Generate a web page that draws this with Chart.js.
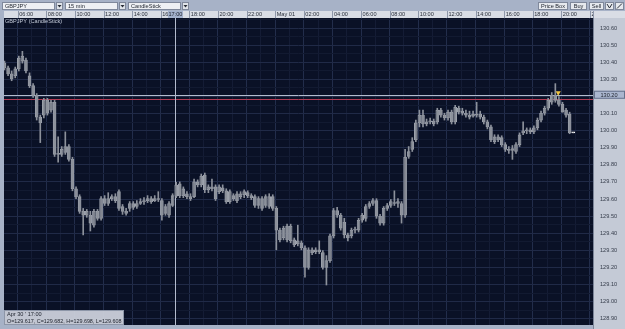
<!DOCTYPE html>
<html>
<head>
<meta charset="utf-8">
<script src="https://cdn.jsdelivr.net/npm/chart.js@4.4.1/dist/chart.umd.min.js"></script>
<style>
html, body { margin: 0; padding: 0; background: #a7b2c7; }
canvas { display: block; }
</style>
</head>
<body>
<canvas id="mainChart" width="625" height="329"></canvas>
<script>
// GBPJPY, 15 min candles, Apr 30 05:00 -> May 01 20:45
const candleOpen = [
  130.395,130.367,130.332,130.321,130.361,130.407,130.413,130.321,130.263,130.206,
  130.079,130.091,130.177,130.120,130.166,129.861,129.861,129.872,129.907,129.832,
  129.660,129.614,129.528,129.505,129.505,129.447,129.528,129.487,129.602,129.574,
  129.602,129.614,129.643,129.556,129.528,129.545,129.574,129.556,129.574,129.585,
  129.591,129.602,129.591,129.602,129.591,129.516,129.505,129.562,129.617,129.689,
  129.620,129.631,129.614,129.614,129.700,129.683,129.740,129.654,129.671,129.671,
  129.643,129.666,129.648,129.585,129.620,129.631,129.614,129.625,129.637,129.620,
  129.614,129.562,129.602,129.562,129.556,129.614,129.545,129.418,129.372,129.441,
  129.355,129.361,129.338,129.344,129.315,129.200,129.303,129.292,129.303,129.286,
  129.200,129.240,129.384,129.533,129.505,129.464,129.390,129.384,129.418,129.418,
  129.476,129.487,129.556,129.574,129.591,129.499,129.459,129.545,129.562,129.579,
  129.574,129.574,129.505,129.849,129.890,129.947,130.045,130.091,130.039,130.051,
  130.056,130.051,130.120,130.091,130.074,130.108,130.051,130.131,130.114,130.102,
  130.091,130.085,130.097,130.097,130.079,130.051,130.022,129.936,129.964,129.959,
  129.918,129.890,129.884,129.878,129.918,129.987,129.999,130.005,129.993,130.016,
  130.062,130.102,130.131,130.166,130.206,130.177,130.154,130.120,130.097,129.987
]
const candleHigh = [
  130.407,130.378,130.349,130.372,130.436,130.464,130.424,130.338,130.275,130.217,
  130.091,130.189,130.189,130.177,130.177,129.964,129.907,129.993,129.918,129.844,
  129.671,129.625,129.545,129.539,129.528,129.539,129.539,129.614,129.620,129.637,
  129.625,129.631,129.654,129.568,129.545,129.585,129.585,129.591,129.602,129.608,
  129.620,129.614,129.620,129.643,129.602,129.568,129.585,129.631,129.698,129.700,
  129.671,129.643,129.631,129.717,129.712,129.746,129.752,129.683,129.717,129.683,
  129.683,129.683,129.660,129.654,129.631,129.643,129.643,129.654,129.648,129.631,
  129.625,129.614,129.614,129.625,129.631,129.625,129.556,129.430,129.441,129.453,
  129.453,129.372,129.447,129.355,129.326,129.315,129.315,129.315,129.355,129.298,
  129.269,129.395,129.545,129.551,129.516,129.487,129.401,129.430,129.436,129.487,
  129.516,129.568,129.585,129.602,129.602,129.510,129.556,129.574,129.597,129.648,
  129.602,129.585,129.890,129.907,129.959,130.062,130.120,130.120,130.068,130.074,
  130.068,130.131,130.131,130.102,130.120,130.120,130.148,130.143,130.131,130.120,
  130.114,130.114,130.166,130.114,130.091,130.062,130.033,129.976,129.976,129.970,
  129.930,129.907,129.913,129.930,129.987,130.051,130.016,130.016,130.028,130.074,
  130.114,130.143,130.189,130.223,130.275,130.200,130.166,130.131,130.108,129.987
]
const candleLow = [
  130.355,130.321,130.292,130.309,130.349,130.395,130.338,130.252,130.194,130.062,
  129.930,130.074,130.091,130.108,129.849,129.815,129.849,129.861,129.821,129.648,
  129.602,129.516,129.390,129.493,129.413,129.436,129.476,129.476,129.562,129.562,
  129.591,129.579,129.533,129.510,129.505,129.528,129.539,129.545,129.568,129.568,
  129.579,129.574,129.585,129.585,129.476,129.505,129.493,129.556,129.608,129.608,
  129.608,129.602,129.591,129.608,129.671,129.671,129.637,129.637,129.648,129.591,
  129.631,129.637,129.574,129.574,129.591,129.579,129.602,129.608,129.608,129.597,
  129.551,129.545,129.533,129.551,129.545,129.533,129.303,129.349,129.361,129.349,
  129.344,129.321,129.326,129.303,129.143,129.189,129.275,129.280,129.280,129.189,
  129.097,129.229,129.372,129.493,129.418,129.372,129.355,129.372,129.401,129.407,
  129.464,129.470,129.545,129.562,129.487,129.447,129.447,129.533,129.551,129.562,
  129.551,129.459,129.493,129.838,129.878,129.936,130.022,130.022,130.028,130.039,
  130.028,130.039,130.079,130.062,130.062,130.039,130.039,130.097,130.091,130.079,
  130.068,130.079,130.079,130.068,130.039,130.010,129.936,129.924,129.936,129.907,
  129.878,129.867,129.832,129.867,129.907,129.976,129.982,129.982,129.982,130.005,
  130.051,130.091,130.120,130.154,130.166,130.143,130.108,130.079,129.982,129.987
]
const candleClose = [
  130.367,130.332,130.303,130.361,130.424,130.436,130.349,130.263,130.206,130.079,
  130.045,130.177,130.102,130.166,129.861,129.867,129.890,129.907,129.832,129.660,
  129.614,129.528,129.505,129.528,129.459,129.528,129.487,129.602,129.574,129.602,
  129.614,129.591,129.545,129.528,129.516,129.574,129.551,129.574,129.585,129.591,
  129.602,129.585,129.602,129.597,129.505,129.556,129.574,129.620,129.682,129.620,
  129.660,129.614,129.602,129.700,129.683,129.734,129.654,129.671,129.660,129.602,
  129.671,129.648,129.585,129.643,129.602,129.591,129.631,129.643,129.620,129.608,
  129.562,129.602,129.545,129.614,129.614,129.545,129.418,129.361,129.430,129.361,
  129.441,129.332,129.355,129.315,129.200,129.303,129.286,129.303,129.292,129.200,
  129.240,129.384,129.533,129.505,129.430,129.390,129.372,129.418,129.424,129.476,
  129.505,129.556,129.574,129.591,129.499,129.459,129.545,129.562,129.585,129.574,
  129.585,129.505,129.844,129.878,129.936,130.045,130.091,130.039,130.051,130.056,
  130.039,130.120,130.091,130.074,130.108,130.051,130.137,130.108,130.102,130.091,
  130.079,130.097,130.091,130.079,130.051,130.022,129.947,129.964,129.947,129.918,
  129.890,129.884,129.895,129.918,129.976,129.999,130.005,129.993,130.016,130.062,
  130.102,130.131,130.177,130.206,130.177,130.154,130.108,130.091,129.987,129.987
]

// 2-hour time labels along the top band (first one is Apr 30 06:00)
const xTickLabels = ["06:00", "08:00", "10:00", "12:00", "14:00", "16:00", "18:00", "20:00", "22:00", "May 01",
                     "02:00", "04:00", "06:00", "08:00", "10:00", "12:00", "14:00", "16:00", "18:00", "20:00", "22:00"]
const yTickLabels = ["128.90", "129.00", "129.10", "129.20", "129.30", "129.40", "129.50", "129.60", "129.70",
                     "129.80", "129.90", "130.00", "130.10", "130.20", "130.30", "130.40", "130.50", "130.60"]

const toolbarCombos = ["GBPJPY", "15 min", "CandleStick"]
const toolbarButtons = ["Price Box", "Buy", "Sell"]
const chartTitle = "GBPJPY (CandleStick)"

// crosshair sits on the Apr 30 17:00 candle
const crosshairIndex = 48
const crosshairTime = "17:00"
const crosshairDate = "Apr 30 ' 17:00"
const crosshairPrice = 130.21
const crosshairPriceLabel = "130.20"
const bidPrice = 130.185
const tradeMarker = [{ x: 154.8, y: 130.222 }]

const FONT = "'Liberation Sans', Arial, sans-serif"
const yTickValues = yTickLabels.map(Number)
const lastIndex = candleOpen.length - 1

function fillBox(ctx, x, y, w, h, fill, stroke) {
    ctx.fillStyle = fill
    ctx.fillRect(x, y, w, h)
    if (stroke) {
        ctx.strokeStyle = stroke
        ctx.lineWidth = 1
        ctx.strokeRect(x + 0.5, y + 0.5, w - 1, h - 1)
    }
}

function putText(ctx, text, x, y, color, align, size) {
    ctx.font = (size || 5.6) + "px " + FONT
    ctx.fillStyle = color
    ctx.textAlign = align || "left"
    ctx.textBaseline = "middle"
    ctx.fillText(text, x, y)
}

function hLine(ctx, x1, x2, y, color) {
    ctx.strokeStyle = color
    ctx.lineWidth = 1
    ctx.beginPath()
    ctx.moveTo(x1, Math.round(y) + 0.5)
    ctx.lineTo(x2, Math.round(y) + 0.5)
    ctx.stroke()
}

function vLine(ctx, x, y1, y2, color) {
    ctx.strokeStyle = color
    ctx.lineWidth = 1
    ctx.beginPath()
    ctx.moveTo(Math.round(x) + 0.5, y1)
    ctx.lineTo(Math.round(x) + 0.5, y2)
    ctx.stroke()
}

function drawToolbar(ctx) {
    const combos = [[2, 53], [65, 53], [128, 53]]
    combos.forEach((c, i) => {
        const x = c[0], w = c[1]
        fillBox(ctx, x, 2, w, 8, "#eef0f4", "#7f889b")
        putText(ctx, toolbarCombos[i], x + 3, 6.2, "#1d222c")
        fillBox(ctx, x + w + 1, 2, 7, 8, "#e0e4ea", "#7f889b")
        ctx.fillStyle = "#262b35"
        ctx.beginPath()
        ctx.moveTo(x + w + 2.5, 5)
        ctx.lineTo(x + w + 6.5, 5)
        ctx.lineTo(x + w + 4.5, 7.5)
        ctx.closePath()
        ctx.fill()
    })
    const buttons = [[538, 30], [570, 17], [589, 15]]
    buttons.forEach((b, i) => {
        fillBox(ctx, b[0], 2, b[1], 8, "#e6e9ee", "#7f889b")
        putText(ctx, toolbarButtons[i], b[0] + b[1] / 2, 6.2, "#1d222c", "center")
    })
    fillBox(ctx, 605, 2, 9, 8, "#e6e9ee", "#7f889b")
    fillBox(ctx, 615, 2, 9, 8, "#e6e9ee", "#7f889b")
    ctx.strokeStyle = "#2a2f3a"
    ctx.lineWidth = 1
    ctx.beginPath()
    ctx.moveTo(607, 4); ctx.lineTo(609.5, 8); ctx.lineTo(612, 4)
    ctx.moveTo(617, 8.5); ctx.lineTo(622, 3.5)
    ctx.stroke()
}

const framePlugin = {
    id: "frame",
    beforeDraw(chart) {
        const ctx = chart.ctx, a = chart.chartArea, xs = chart.scales.x
        ctx.save()
        fillBox(ctx, 0, 0, chart.width, chart.height, "#a7b2c7")
        fillBox(ctx, a.left, a.top, a.right - a.left, a.bottom - a.top, "#0a1126")
        fillBox(ctx, a.left, 11, a.right - a.left, a.top - 11, "#d9dde5")
        fillBox(ctx, a.right, a.top, chart.width - a.right, chart.height - a.top, "#c4cad6")
        vLine(ctx, a.right, a.top, chart.height, "#7c8598")
        // dividers between the time labels
        xs.ticks.forEach((t, i) => {
            if (i % 2 === 0) vLine(ctx, xs.getPixelForValue(t.value), 11, a.top, "#8e97a9")
        })
        ctx.restore()
    },
    beforeDatasetsDraw(chart) {
        const ctx = chart.ctx, a = chart.chartArea, xs = chart.scales.x, ys = chart.scales.y
        ctx.save()
        hLine(ctx, a.left, a.right, ys.getPixelForValue(bidPrice), "#b13c55")
        hLine(ctx, a.left, a.right, ys.getPixelForValue(crosshairPrice), "#b3bbcd")
        vLine(ctx, xs.getPixelForValue(crosshairIndex - 0.2), a.top, a.bottom, "#b3bbcd")
        ctx.restore()
    },
    afterDraw(chart) {
        const ctx = chart.ctx, a = chart.chartArea, xs = chart.scales.x, ys = chart.scales.y
        ctx.save()
        // the band over the price panel hides the cut 22:00 label
        fillBox(ctx, a.right, 11, chart.width - a.right, a.top - 11, "#d9dde5")
        vLine(ctx, a.right, 11, a.top, "#8e97a9")

        const cx = xs.getPixelForValue(crosshairIndex - 0.2)
        fillBox(ctx, cx - 7.5, 11, 15, a.top - 11, "#a4b2cd")
        putText(ctx, crosshairTime, cx, 14.7, "#1d222c", "center")

        const cy = ys.getPixelForValue(crosshairPrice)
        fillBox(ctx, a.right + 1, cy - 4, chart.width - a.right - 1, 8, "#aab6cf", "#66728c")
        putText(ctx, crosshairPriceLabel, 609, cy + 0.3, "#1d222c", "center")

        putText(ctx, chartTitle, a.left + 1, a.top + 3.5, "#c3cad8")

        // OHLC box for the crosshair candle
        const i = crosshairIndex
        const ohlc = "O=" + candleOpen[i].toFixed(3) + ", C=" + candleClose[i].toFixed(3) +
                     ", H=" + candleHigh[i].toFixed(3) + ", L=" + candleLow[i].toFixed(3)
        fillBox(ctx, a.left, a.bottom - 15, 120, 15, "rgba(203,208,218,0.95)", "#8d96a8")
        putText(ctx, crosshairDate, a.left + 3, a.bottom - 11, "#1d222c")
        putText(ctx, ohlc, a.left + 3, a.bottom - 3.8, "#1d222c", "left", 5.4)

        drawToolbar(ctx)
        ctx.restore()
    }
}

const indexList = candleOpen.map((v, i) => i)
const wickData = indexList.map(i => ({ x: i, y: [candleLow[i], candleHigh[i]] }))
const bodyData = indexList.map(i => ({ x: i, y: [candleOpen[i], candleClose[i]] }))

function bodyFill(c) {
    const i = c.dataIndex
    if (i === undefined) return "#7d828d"
    if (i === lastIndex) return "#ffffff"
    return candleClose[i] > candleOpen[i] ? "#2c3344" : "#7d828d"
}

function bodyEdge(c) {
    const i = c.dataIndex
    if (i === lastIndex) return "#ffffff"
    return "#9ea3ad"
}

const ctx = document.getElementById("mainChart").getContext("2d")
window.myChart = new Chart(ctx, {
    type: "bar",
    data: {
        datasets: [
            {
                label: "wick",
                data: wickData,
                grouped: false,
                barThickness: 1,
                backgroundColor: "#8c919b",
                borderWidth: 0
            },
            {
                label: "body",
                data: bodyData,
                grouped: false,
                barThickness: 3,
                minBarLength: 1,
                backgroundColor: bodyFill,
                borderColor: bodyEdge,
                borderWidth: 1,
                borderSkipped: false
            },
            {
                type: "line",
                label: "trade",
                data: tradeMarker,
                showLine: false,
                pointStyle: "triangle",
                rotation: 180,
                pointRadius: 3,
                backgroundColor: "#f3c640",
                borderColor: "#f3c640",
                borderWidth: 0
            }
        ]
    },
    options: {
        responsive: false,
        animation: false,
        events: [],
        layout: { padding: { left: 3, top: 11, right: 0, bottom: 3 } },
        plugins: {
            legend: { display: false },
            tooltip: { enabled: false }
        },
        scales: {
            x: {
                type: "linear",
                position: "top",
                min: -0.14,
                max: 164.53,
                offset: false,
                border: { display: false },
                grid: {
                    offset: false,
                    drawTicks: false,
                    color: c => (c.index % 2 ? "#141c35" : "#222d4b")
                },
                ticks: {
                    autoSkip: false,
                    maxRotation: 0,
                    minRotation: 0,
                    align: "start",
                    padding: 0,
                    labelOffset: 1.5,
                    color: "#2a303b",
                    font: { family: FONT, size: 5.6 },
                    callback: (v, i) => (i % 2 ? "" : xTickLabels[i / 2])
                },
                afterBuildTicks: s => {
                    const t = []
                    xTickLabels.forEach((lbl, k) => {
                        const v = 3.684 + 8 * k
                        if (v <= s.max) t.push({ value: v })
                        if (v + 4 <= s.max) t.push({ value: v + 4 })
                    })
                    s.ticks = t
                },
                afterFit: s => {
                    s.height = 7
                    s.paddingLeft = 0
                    s.paddingRight = 0
                }
            },
            y: {
                type: "linear",
                position: "right",
                min: 128.863,
                max: 130.659,
                border: { display: false },
                grid: {
                    drawTicks: false,
                    color: c => (c.index % 2 ? "#121a31" : "#202a47")
                },
                ticks: {
                    autoSkip: false,
                    padding: 7,
                    crossAlign: "center",
                    color: "#353c4a",
                    font: { family: FONT, size: 5.6 },
                    callback: (v, i) => (i % 2 ? "" : yTickLabels[i / 2])
                },
                afterBuildTicks: s => {
                    const t = []
                    yTickValues.forEach(v => {
                        t.push({ value: v })
                        if (v + 0.05 <= s.max) t.push({ value: v + 0.05 })
                    })
                    s.ticks = t
                },
                afterFit: s => {
                    s.width = 32
                    s.paddingTop = 0
                    s.paddingBottom = 0
                }
            }
        }
    },
    plugins: [framePlugin]
})
</script>
</body>
</html>
